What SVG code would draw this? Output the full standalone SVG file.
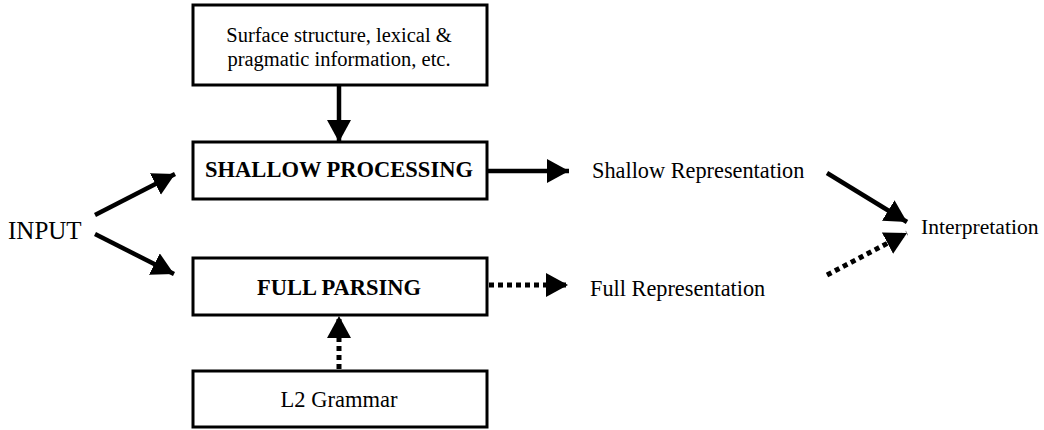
<svg xmlns="http://www.w3.org/2000/svg" width="1044" height="430" viewBox="0 0 1044 430">
<style>
.box{fill:#fff;stroke:#000;stroke-width:3}
.t{font-family:"Liberation Serif","Times New Roman",serif;fill:#000}
.b{font-weight:bold}
.solid{stroke:#000;stroke-width:4.5;fill:none}
.dot{stroke:#000;stroke-width:5;fill:none;stroke-dasharray:5 4}
</style>
<defs>
<marker id="ah" markerUnits="userSpaceOnUse" markerWidth="26" markerHeight="26" refX="22" refY="12" orient="auto">
<path d="M0,0 L22,12 L0,24 Z" fill="#000"/>
</marker>
</defs>
<rect width="1044" height="430" fill="#fff"/>
<g id="surface">
<rect class="box" x="193" y="5" width="294" height="80"/>
<text class="t" x="339" y="42" font-size="20.5" text-anchor="middle">Surface structure, lexical &amp;</text>
<text class="t" x="339" y="66" font-size="20.5" text-anchor="middle">pragmatic information, etc.</text>
</g>
<g id="shallow">
<rect class="box" x="193" y="142" width="294" height="57"/>
<text class="t b" x="339" y="177" font-size="22.5" text-anchor="middle">SHALLOW PROCESSING</text>
</g>
<g id="full">
<rect class="box" x="193" y="258" width="294" height="57"/>
<text class="t b" x="339" y="295" font-size="22.5" text-anchor="middle">FULL PARSING</text>
</g>
<g id="l2">
<rect class="box" x="193" y="371" width="294" height="56"/>
<text class="t" x="339" y="407" font-size="22.5" text-anchor="middle">L2 Grammar</text>
</g>
<g id="input">
<text class="t" x="8" y="239" font-size="25">INPUT</text>
</g>
<g id="shallowrep">
<text class="t" x="592" y="178" font-size="22.3">Shallow Representation</text>
</g>
<g id="fullrep">
<text class="t" x="590" y="296" font-size="22.3">Full Representation</text>
</g>
<g id="interp">
<text class="t" x="921" y="234" font-size="21.6">Interpretation</text>
</g>
<g id="connectors">
<line class="solid" x1="339" y1="86" x2="339" y2="142" marker-end="url(#ah)"/>
<line class="dot" x1="339" y1="369" x2="339" y2="316" marker-end="url(#ah)"/>
<line class="solid" x1="95" y1="215" x2="175" y2="174" marker-end="url(#ah)"/>
<line class="solid" x1="95" y1="234" x2="174" y2="274" marker-end="url(#ah)"/>
<line class="solid" x1="488" y1="171" x2="569" y2="171" marker-end="url(#ah)"/>
<line class="dot" x1="489" y1="285" x2="568" y2="285" marker-end="url(#ah)"/>
<line class="solid" x1="827" y1="173" x2="907" y2="222" marker-end="url(#ah)"/>
<line class="dot" x1="827" y1="275" x2="907" y2="233" marker-end="url(#ah)"/>
</g>
</svg>
